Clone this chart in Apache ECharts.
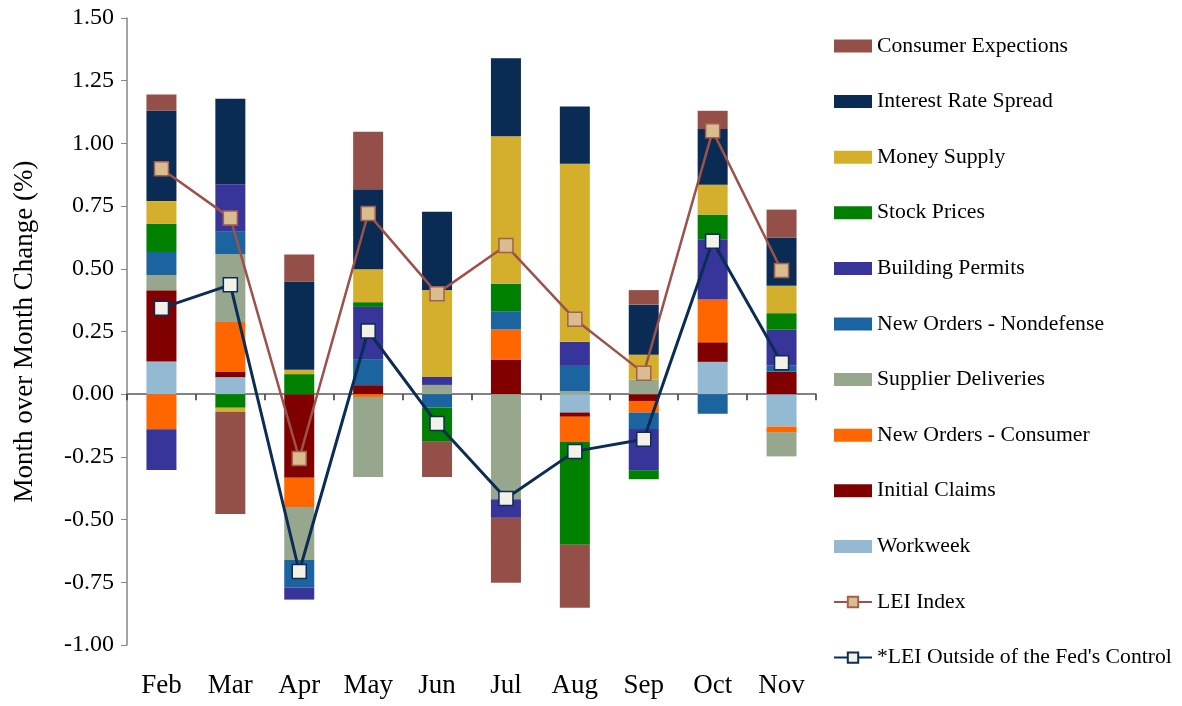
<!DOCTYPE html>
<html>
<head>
<meta charset="utf-8">
<script src="https://cdn.jsdelivr.net/npm/echarts@6/dist/echarts.min.js"></script>
<style>html,body{margin:0;padding:0;background:#fff}#c{width:1182px;height:706px}</style>
</head>
<body>
<div id="c"></div>
<script>
const months = ['Feb','Mar','Apr','May','Jun','Jul','Aug','Sep','Oct','Nov'];
const yTicks = ['-1.00','-0.75','-0.50','-0.25','0.00','0.25','0.50','0.75','1.00','1.25','1.50'];

// Components (stack order bottom-up)
const workweek         = [0.130, 0.068, 0,      0,      0,      0,      -0.073, 0,      0.129, -0.129];
const initialClaims    = [0.284, 0.021, -0.333, 0.036,  0,      0.138,  -0.017, -0.027, 0.078, 0.090];
const newOrdersCons    = [-0.140,0.199, -0.117, -0.011, 0,      0.120,  -0.100, -0.046, 0.171, -0.022];
const supplierDeliv    = [0.061, 0.271, -0.211, -0.319, 0.037,  -0.419, 0.012,  0.059,  0,     -0.097];
const newOrdersNondef  = [0.092, 0.091, -0.110, 0.104,  -0.053, 0.073,  0.101,  -0.066, -0.078, 0.023];
const buildingPermits  = [-0.162,0.187, -0.048, 0.208,  0.032,  -0.074, 0.096,  -0.164, 0.240, 0.144];
const stockPrices      = [0.112, -0.054,0.080,  0.019,  -0.137, 0.110,  -0.410, -0.036, 0.098, 0.066];
const moneySupply      = [0.091, -0.016,0.017,  0.131,  0.346,  0.588,  0.710,  0.098,  0.119, 0.109];
const interestSpread   = [0.361, 0.341, 0.352,  0.319,  0.312,  0.311,  0.228,  0.200,  0.222, 0.193];
const consumerExp      = [0.064, -0.408,0.108,  0.229,  -0.140, -0.259, -0.251, 0.058,  0.073, 0.111];

const leiIndex   = [0.899, 0.703, -0.256, 0.720, 0.401, 0.593, 0.299, 0.084, 1.050, 0.493];
const leiOutside = [0.343, 0.436, -0.707, 0.252, -0.117, -0.416, -0.228, -0.180, 0.610, 0.125];

const FONT = 'Liberation Serif';
const barDefs = [
  ['Workweek', workweek, '#93B9D3'],
  ['Initial Claims', initialClaims, '#800000'],
  ['New Orders - Consumer', newOrdersCons, '#FF6600'],
  ['Supplier Deliveries', supplierDeliv, '#97A78E'],
  ['New Orders - Nondefense', newOrdersNondef, '#1B64A0'],
  ['Building Permits', buildingPermits, '#37349A'],
  ['Stock Prices', stockPrices, '#008000'],
  ['Money Supply', moneySupply, '#D4AF2C'],
  ['Interest Rate Spread', interestSpread, '#0A2B53'],
  ['Consumer Expections', consumerExp, '#945048']
];

const series = barDefs.map(([name, data, color]) => ({
  name, type: 'bar', stack: 'lei', data, barWidth: 30,
  itemStyle: { color }, z: 2
}));
series.push({
  name: 'LEI Index', type: 'line', data: leiIndex, z: 5,
  symbol: 'rect', symbolSize: 14,
  lineStyle: { color: '#9C524B', width: 2.5 },
  itemStyle: { color: '#D9BD8E', borderColor: '#A55E52', borderWidth: 1.5 }
});
series.push({
  name: "*LEI Outside of the Fed's Control", type: 'line', data: leiOutside, z: 6,
  symbol: 'rect', symbolSize: 14,
  lineStyle: { color: '#0B2D55', width: 3 },
  itemStyle: { color: '#F4F2E6', borderColor: '#0B2D55', borderWidth: 1.5 }
});

const legendOrder = ['Consumer Expections','Interest Rate Spread','Money Supply','Stock Prices','Building Permits',
  'New Orders - Nondefense','Supplier Deliveries','New Orders - Consumer','Initial Claims','Workweek'];

const chart = echarts.init(document.getElementById('c'));
chart.setOption({
  animation: false,
  backgroundColor: '#ffffff',
  textStyle: { fontFamily: FONT, color: '#000' },
  grid: { left: 127, right: 366, top: 18, bottom: 61 },
  legend: {
    orient: 'vertical', left: 833, top: 35, padding: 0,
    itemWidth: 38, itemHeight: 13, itemGap: 33.6,
    textStyle: { fontFamily: FONT, fontSize: 21.7, color: '#000', lineHeight: 22 },
    data: legendOrder.map(n => ({ name: n, icon: 'rect' }))
      .concat([{ name: 'LEI Index' }, { name: "*LEI Outside of the Fed's Control" }])
  },
  xAxis: [
    {
      type: 'category', data: months, position: 'bottom',
      axisLine: { show: false, onZero: false }, axisTick: { show: false },
      axisLabel: { fontFamily: FONT, fontSize: 27, color: '#000', margin: 27 }
    },
    {
      type: 'category', data: months, position: 'bottom',
      axisLine: { show: true, onZero: true, lineStyle: { color: '#595959', width: 1.5 } },
      axisTick: { show: true, length: 6, lineStyle: { color: '#333', width: 1.5 } },
      axisLabel: { show: false }
    }
  ],
  yAxis: {
    type: 'value', min: -1, max: 1.5, interval: 0.25,
    name: 'Month over Month Change (%)', nameLocation: 'middle', nameRotate: 90, nameGap: 89,
    nameTextStyle: { fontFamily: FONT, fontSize: 27, color: '#000' },
    axisLine: { show: true, lineStyle: { color: '#868686', width: 1.5 } },
    axisTick: { show: true, length: 6, lineStyle: { color: '#868686' } },
    splitLine: { show: false },
    axisLabel: { fontFamily: FONT, fontSize: 24, color: '#000', margin: 13,
      formatter: v => yTicks.find(t => Math.abs(parseFloat(t) - v) < 1e-6) || v.toFixed(2) }
  },
  series
});
</script>
</body>
</html>
